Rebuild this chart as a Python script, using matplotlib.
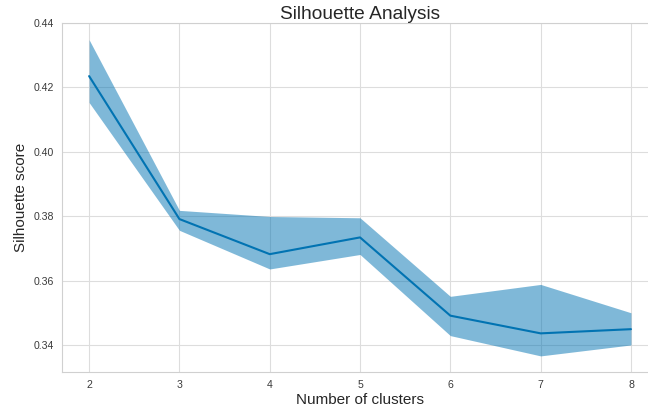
## Import Required Libraries

import matplotlib
matplotlib.use("Agg")
import matplotlib.pyplot as plt
import seaborn as sns

## Create Data

clusters = [2, 3, 4, 5, 6, 7, 8]
score_mean = [0.4235, 0.3791, 0.3682, 0.3734, 0.3491, 0.3436, 0.3449]
score_low = [0.4153, 0.3756, 0.3636, 0.3681, 0.3429, 0.3366, 0.3400]
score_high = [0.4348, 0.3818, 0.3799, 0.3795, 0.3551, 0.3588, 0.3500]

# score_mean is the average silhouette score per cluster count,
# score_low / score_high give the shaded band around it.

## Style

sns.set_style("whitegrid")
plt.rcParams["font.family"] = ["Liberation Sans", "DejaVu Sans"]

blue = "#0173B2"

## Create Figure

fig = plt.figure(figsize=(6.48, 4.12), dpi=100)
# axes run a little past the right edge, like the reference crop
ax = fig.add_axes([0.0957, 0.0971, 0.9198, 0.8471])

## Draw Line And Band

ax.fill_between(clusters, score_low, score_high, color=blue, alpha=0.5, linewidth=0)
ax.plot(clusters, score_mean, color=blue, linewidth=1.5)

## Axes, Labels, Title

ax.set_xlim(1.7, 8.3)
ax.set_ylim(0.3316, 0.44)
ax.set_xticks(clusters)
ax.set_yticks([0.34, 0.36, 0.38, 0.40, 0.42, 0.44])
ax.set_yticklabels(["0.34", "0.36", "0.38", "0.40", "0.42", "0.44"])
ax.tick_params(labelsize=7.6, colors="#3a3a3a", length=0, pad=6)

ax.set_xlabel("Number of clusters", fontsize=11, color="#262626", labelpad=2)
ax.set_ylabel("Silhouette score", fontsize=11, color="#262626", labelpad=4)
ax.set_title("Silhouette Analysis", fontsize=13.8, color="#262626", pad=3)

ax.grid(True, color="#dddddd", linewidth=0.8)
for spine in ax.spines.values():
    spine.set_color("#d0d0d0")

## Save Figure

fig.savefig("out.png", dpi=100)
